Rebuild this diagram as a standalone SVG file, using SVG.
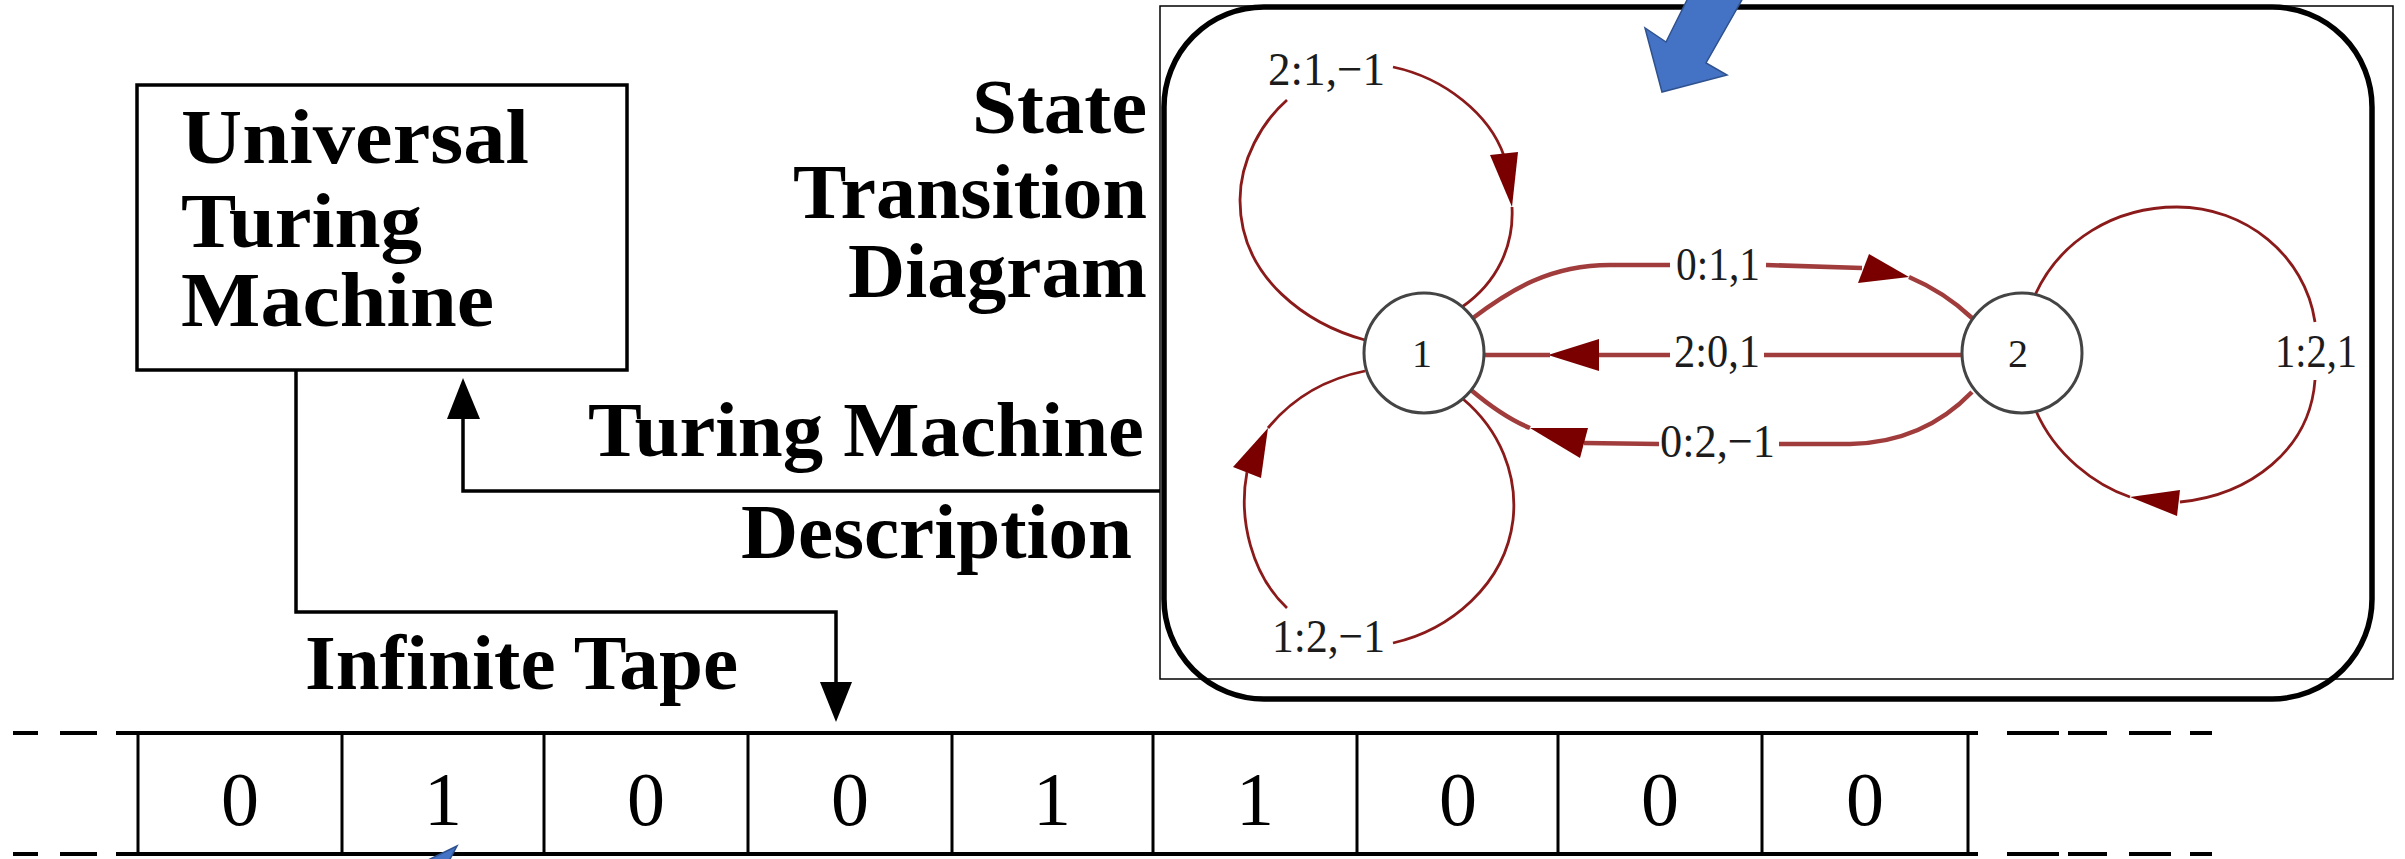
<svg xmlns="http://www.w3.org/2000/svg" width="2405" height="859" viewBox="0 0 2405 859">
  <style>
    .bold { font-family: "Liberation Serif", "Times New Roman", serif; font-weight: bold; font-size: 78px; fill: #000; }
    .digit { font-family: "Liberation Serif", "Times New Roman", serif; font-size: 76px; fill: #000; text-anchor: middle; }
    .elabel { font-family: "Liberation Serif", "Times New Roman", serif; font-size: 47px; fill: #1c1c1c; }
    .nlabel { font-family: "Liberation Serif", "Times New Roman", serif; font-size: 40px; fill: #1c1c1c; text-anchor: middle; }
    .box { fill: #fff; stroke: #000; stroke-width: 3.5; }
    .wire { fill: none; stroke: #000; stroke-width: 3.5; }
    .head { fill: #000; stroke: none; }
    .tape { fill: none; stroke: #000; stroke-width: 4; }
    .cell { fill: none; stroke: #000; stroke-width: 3; }
    .state { fill: #fff; stroke: #444; stroke-width: 3; }
    .loop { fill: none; stroke: #8b1a1a; stroke-width: 2.8; }
    .link { fill: none; stroke: #a13c3c; stroke-width: 4.5; }
    .ah { fill: #7a0000; stroke: none; }
    .callout { fill: #4472c4; stroke: #2f528f; stroke-width: 1.5; }
  </style>

  <!-- Universal Turing Machine block -->
  <g id="utm">
    <rect class="box" x="137" y="85" width="490" height="285"/>
    <text class="bold" x="181" y="163" textLength="348" lengthAdjust="spacingAndGlyphs">Universal</text>
    <text class="bold" x="181" y="247" textLength="241" lengthAdjust="spacingAndGlyphs">Turing</text>
    <text class="bold" x="181" y="326" textLength="313" lengthAdjust="spacingAndGlyphs">Machine</text>
  </g>

  <!-- Side captions -->
  <g id="caption-std">
    <text class="bold" x="1147" y="133" text-anchor="end" textLength="175" lengthAdjust="spacingAndGlyphs">State</text>
    <text class="bold" x="1147" y="218" text-anchor="end" textLength="354" lengthAdjust="spacingAndGlyphs">Transition</text>
    <text class="bold" x="1147" y="297" text-anchor="end" textLength="299" lengthAdjust="spacingAndGlyphs">Diagram</text>
  </g>
  <g id="caption-description">
    <text class="bold" x="588" y="456" textLength="556" lengthAdjust="spacingAndGlyphs">Turing Machine</text>
    <text class="bold" x="741" y="558" textLength="391" lengthAdjust="spacingAndGlyphs">Description</text>
  </g>
  <g id="caption-tape">
    <text class="bold" x="305" y="689" textLength="433" lengthAdjust="spacingAndGlyphs">Infinite Tape</text>
  </g>

  <!-- Infinite tape -->
  <g id="tape">
    <path class="tape" d="M116,733 H1978 M116,854 H1978"/>
    <path class="tape" d="M13,733 H38 M60,733 H97 M13,854 H38 M60,854 H97"/>
    <path class="tape" d="M2007,733 H2059 M2068,733 H2107 M2129,733 H2171 M2190,733 H2212 M2007,854 H2059 M2068,854 H2107 M2129,854 H2171 M2190,854 H2212"/>
    <path class="cell" d="M138,733 V854 M342,733 V854 M544,733 V854 M748,733 V854 M952,733 V854 M1153,733 V854 M1357,733 V854 M1558,733 V854 M1762,733 V854 M1968,733 V854"/>
    <text class="digit" x="240" y="825">0</text>
    <text class="digit" x="443" y="825">1</text>
    <text class="digit" x="646" y="825">0</text>
    <text class="digit" x="850" y="825">0</text>
    <text class="digit" x="1052" y="825">1</text>
    <text class="digit" x="1255" y="825">1</text>
    <text class="digit" x="1458" y="825">0</text>
    <text class="digit" x="1660" y="825">0</text>
    <text class="digit" x="1865" y="825">0</text>
  </g>

  <!-- Black connectors: description into the UTM, UTM head onto the tape -->
  <g id="connectors">
    <path class="wire" d="M1160,491 H463 V415"/>
    <polygon class="head" points="463,378 447,419 480,419"/>
    <path class="wire" d="M296,370 V612 H836 V684"/>
    <polygon class="head" points="836,722 820,682 852,682"/>
  </g>

  <!-- State transition diagram panel -->
  <g id="std-frame">
    <rect x="1160" y="6" width="1233" height="673" fill="none" stroke="#000" stroke-width="1.5"/>
    <rect x="1164" y="7" width="1208" height="692" rx="100" ry="100" fill="none" stroke="#000" stroke-width="5.5"/>
  </g>

  <g id="transitions">
    <!-- 2:1,-1 loop above state 1 -->
    <path class="loop" d="M1365,340 C1310,325 1240,280 1240,200 C1240,160 1262,122 1287,100"/>
    <path class="loop" d="M1393,67 C1445,78 1490,115 1504,156"/>
    <polygon class="ah" points="1490,155 1518,152 1512,207"/>
    <path class="loop" d="M1512,207 C1514,245 1498,282 1462,307"/>
    <!-- 1:2,-1 loop below state 1 -->
    <path class="loop" d="M1268,428 C1295,395 1330,378 1365,371"/>
    <polygon class="ah" points="1268,428 1233,467 1261,478"/>
    <path class="loop" d="M1247,472 C1238,520 1252,575 1287,608"/>
    <path class="loop" d="M1393,643 C1450,630 1505,585 1513,520 C1518,475 1500,430 1463,399"/>
    <!-- 1:2,1 loop on state 2 -->
    <path class="loop" d="M2035,295 C2060,240 2115,207 2177,207 C2245,207 2305,255 2315,322"/>
    <path class="loop" d="M2315,380 C2310,450 2250,495 2180,502"/>
    <polygon class="ah" points="2180,490 2177,516 2130,497"/>
    <path class="loop" d="M2130,497 C2095,485 2055,455 2036,411"/>
    <!-- 0:1,1 from 1 to 2 -->
    <path class="link" d="M1473,318 C1510,290 1550,265 1610,265 L1670,265"/>
    <path class="link" d="M1766,265 L1862,268"/>
    <polygon class="ah" points="1869,254 1858,283 1909,277"/>
    <path class="link" d="M1909,277 C1935,288 1955,302 1972,318"/>
    <!-- 2:0,1 from 2 to 1 -->
    <path class="link" d="M1962,355 H1764 M1670,355 H1596"/>
    <polygon class="ah" points="1599,339 1599,371 1548,355"/>
    <path class="link" d="M1550,355 H1484"/>
    <!-- 0:2,-1 from 2 to 1 -->
    <path class="link" d="M1972,392 C1945,420 1905,443 1850,444 L1779,444"/>
    <path class="link" d="M1659,444 L1584,443"/>
    <polygon class="ah" points="1588,428 1580,458 1530,428"/>
    <path class="link" d="M1530,428 C1510,420 1490,406 1471,390"/>

    <text class="elabel" x="1268" y="85" textLength="117" lengthAdjust="spacingAndGlyphs">2:1,−1</text>
    <text class="elabel" x="1272" y="652" textLength="113" lengthAdjust="spacingAndGlyphs">1:2,−1</text>
    <text class="elabel" x="1676" y="280" textLength="84" lengthAdjust="spacingAndGlyphs">0:1,1</text>
    <text class="elabel" x="1674" y="367" textLength="86" lengthAdjust="spacingAndGlyphs">2:0,1</text>
    <text class="elabel" x="1660" y="457" textLength="115" lengthAdjust="spacingAndGlyphs">0:2,−1</text>
    <text class="elabel" x="2275" y="367" textLength="82" lengthAdjust="spacingAndGlyphs">1:2,1</text>
  </g>

  <g id="state-1">
    <circle class="state" cx="1424" cy="353" r="60"/>
    <text class="nlabel" x="1422" y="367">1</text>
  </g>
  <g id="state-2">
    <circle class="state" cx="2022" cy="353" r="60"/>
    <text class="nlabel" x="2018" y="367">2</text>
  </g>

  <!-- Blue block arrows -->
  <g id="callouts">
    <polygon class="callout" points="1688,-2 1666,42 1645,28 1662,92 1727,75 1706,63 1743,-2"/>
    <polygon class="callout" points="457,846 426,861 449,861"/>
  </g>
</svg>
